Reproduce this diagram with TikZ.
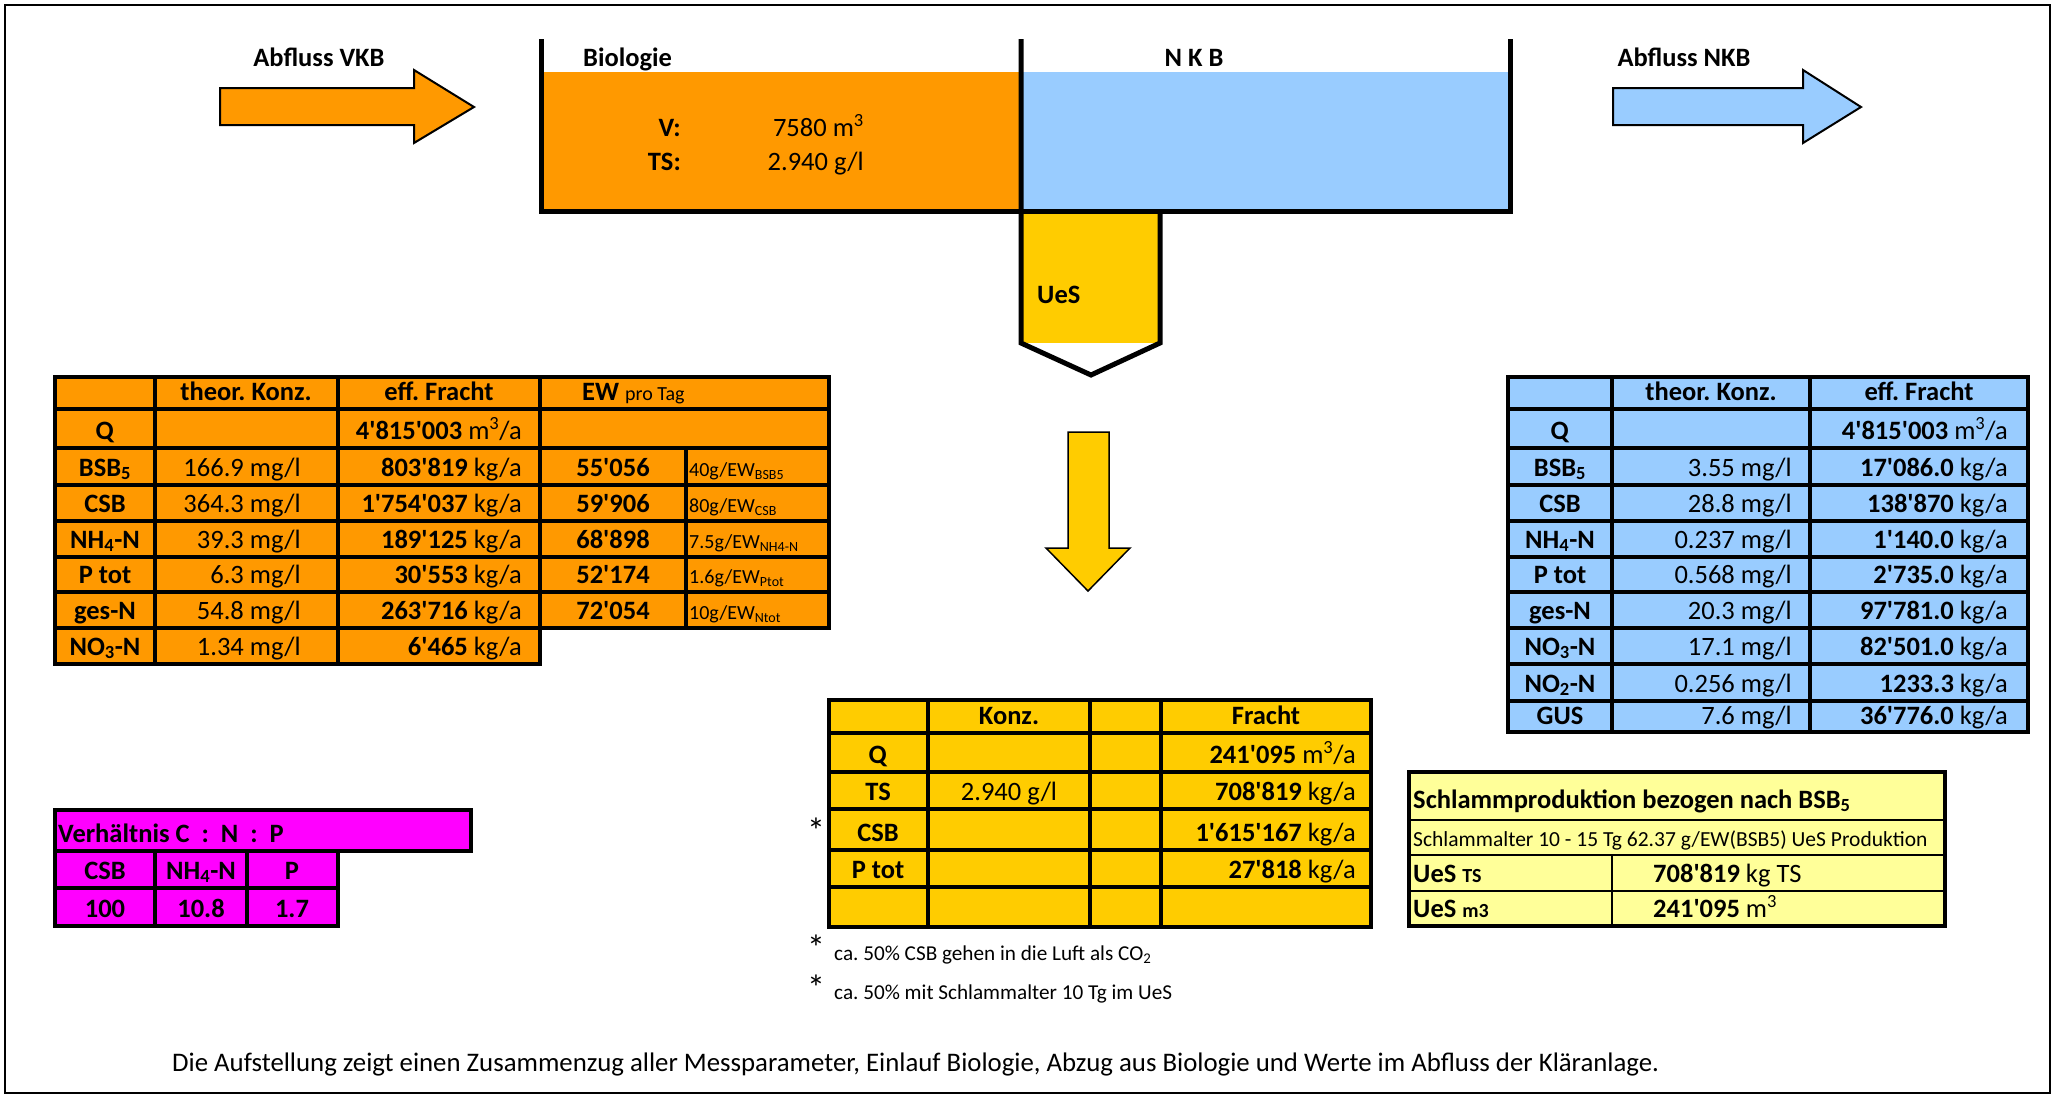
\documentclass[tikz,border=0pt]{standalone}
\usepackage{fontspec}
\setmainfont{Carlito}[Ligatures=TeXOff]
\frenchspacing
\definecolor{cOr}{HTML}{FF9900}
\definecolor{cBl}{HTML}{99CCFF}
\definecolor{cYe}{HTML}{FFCC00}
\definecolor{cMa}{HTML}{FF00FF}
\definecolor{cLy}{HTML}{FFFF99}
\newcommand{\fM}{\fontsize{26.5}{30}\selectfont}
\newcommand{\fS}{\fontsize{20}{23}\selectfont}
\newcommand{\fR}{\fontsize{21.5}{24}\selectfont}
\newcommand{\fF}{\fontsize{26.8}{30}\selectfont}
\newcommand{\fT}{\fontsize{21.2}{24}\selectfont}
\newcommand{\fA}{\fontsize{36}{38}\selectfont}
\newcommand{\ap}{\textquotesingle}
\newcommand{\sbs}[1]{\textsubscript{#1}}
\newcommand{\sps}[1]{\textsuperscript{#1}}
\newcounter{nd}
\newcommand{\T}[4][]{\stepcounter{nd}\node[txt,#1] (t\arabic{nd}) at (#2,#3) {#4};}
\tikzset{
  txt/.style={inner sep=0pt, anchor=base, font=\fM},
  L/.style={anchor=base west},
  R/.style={anchor=base east},
  tbl/.style={line width=3.2pt, line cap=rect},
  thin/.style={line width=1.6pt},
  wall/.style={line width=5pt, line join=miter},
  arr/.style={draw=black, line width=2pt, line join=miter},
}
\begin{document}
\begin{tikzpicture}[x=1pt,y=-1pt]
\useasboundingbox (0,0) rectangle (2056,1098);
\draw[line width=2pt] (5,5) rectangle (2050,1093);

% ---------- top process ----------
\T{319}{66}{\textbf{Abfluss VKB}}
\draw[arr, fill=cOr] (220,88) -- (414,88) -- (414,70) -- (474,107) -- (414,143) -- (414,125) -- (220,125) -- cycle;
\T{1684}{66}{\textbf{Abfluss NKB}}
\draw[arr, fill=cBl] (1613,88) -- (1803,88) -- (1803,70) -- (1861,107) -- (1803,143) -- (1803,125) -- (1613,125) -- cycle;

\fill[cOr] (541,72) rectangle (1021,211);
\fill[cBl] (1021,72) rectangle (1510,211);
\fill[cYe] (1021,211) rectangle (1160,343);
\draw[wall] (541,39) -- (541,211) -- (1510,211) -- (1510,39);
\draw[wall] (1021,39) -- (1021,343) -- (1091,375) -- (1160,343) -- (1160,211);
\T[L]{583}{66}{\textbf{Biologie}}
\T{1194}{66}{\textbf{N K B}}
\T[R]{681}{136}{\textbf{V:}}
\T[R]{864}{136}{7580 m\sps{3}}
\T[R]{681}{170}{\textbf{TS:}}
\T[R]{864}{170}{2.940 g/l}
\T[L]{1037}{303}{\textbf{UeS}}

\draw[arr, fill=cYe, line width=1.5pt] (1068,432) -- (1109,432) -- (1109,548) -- (1130,548) -- (1088,591) -- (1046,548) -- (1068,548) -- cycle;

% ---------- orange table ----------
\fill[cOr] (55,377) rectangle (829,628);
\fill[cOr] (55,628) rectangle (540,664);
\foreach \y in {377,409,448,485,521,557,592,628} \draw[tbl] (55,\y) -- (829,\y);
\draw[tbl] (55,664) -- (540,664);
\foreach \x in {55,155,338,540} \draw[tbl] (\x,377) -- (\x,664);
\draw[tbl] (686,448) -- (686,628);
\draw[tbl] (829,377) -- (829,628);
\T{246}{400}{\textbf{theor. Konz.}}
\T{439}{400}{\textbf{eff. Fracht}}
\T[L]{582}{400}{\textbf{EW} {\fS pro Tag}}
\T{105}{439}{\textbf{Q}}
\T[R]{522}{439}{\textbf{4\ap815\ap003} m\sps{3}/a}
\T{105}{476}{\textbf{BSB\sbs{5}}}
\T[R]{301}{476}{166.9 mg/l}
\T[R]{522}{476}{\textbf{803\ap819} kg/a}
\T{613}{476}{\textbf{55\ap056}}
\T[L]{689}{476}{\fS 40g/EW\sbs{BSB5}}
\T{105}{512}{\textbf{CSB}}
\T[R]{301}{512}{364.3 mg/l}
\T[R]{522}{512}{\textbf{1\ap754\ap037} kg/a}
\T{613}{512}{\textbf{59\ap906}}
\T[L]{689}{512}{\fS 80g/EW\sbs{CSB}}
\T{105}{548}{\textbf{NH\sbs{4}-N}}
\T[R]{301}{548}{39.3 mg/l}
\T[R]{522}{548}{\textbf{189\ap125} kg/a}
\T{613}{548}{\textbf{68\ap898}}
\T[L]{689}{548}{\fS 7.5g/EW\sbs{NH4-N}}
\T{105}{583}{\textbf{P tot}}
\T[R]{301}{583}{6.3 mg/l}
\T[R]{522}{583}{\textbf{30\ap553} kg/a}
\T{613}{583}{\textbf{52\ap174}}
\T[L]{689}{583}{\fS 1.6g/EW\sbs{Ptot}}
\T{105}{619}{\textbf{ges-N}}
\T[R]{301}{619}{54.8 mg/l}
\T[R]{522}{619}{\textbf{263\ap716} kg/a}
\T{613}{619}{\textbf{72\ap054}}
\T[L]{689}{619}{\fS 10g/EW\sbs{Ntot}}
\T{105}{655}{\textbf{NO\sbs{3}-N}}
\T[R]{301}{655}{1.34 mg/l}
\T[R]{522}{655}{\textbf{6\ap465} kg/a}

% ---------- blue table ----------
\fill[cBl] (1508,377) rectangle (2028,732);
\foreach \y in {377,409,448,485,521,557,592,628,664,701,732} \draw[tbl] (1508,\y) -- (2028,\y);
\foreach \x in {1508,1612,1810,2028} \draw[tbl] (\x,377) -- (\x,732);
\T{1711}{400}{\textbf{theor. Konz.}}
\T{1919}{400}{\textbf{eff. Fracht}}
\T{1560}{439}{\textbf{Q}}
\T[R]{2008}{439}{\textbf{4\ap815\ap003} m\sps{3}/a}
\T{1560}{476}{\textbf{BSB\sbs{5}}}
\T[R]{1792}{476}{3.55 mg/l}
\T[R]{2008}{476}{\textbf{17\ap086.0} kg/a}
\T{1560}{512}{\textbf{CSB}}
\T[R]{1792}{512}{28.8 mg/l}
\T[R]{2008}{512}{\textbf{138\ap870} kg/a}
\T{1560}{548}{\textbf{NH\sbs{4}-N}}
\T[R]{1792}{548}{0.237 mg/l}
\T[R]{2008}{548}{\textbf{1\ap140.0} kg/a}
\T{1560}{583}{\textbf{P tot}}
\T[R]{1792}{583}{0.568 mg/l}
\T[R]{2008}{583}{\textbf{2\ap735.0} kg/a}
\T{1560}{619}{\textbf{ges-N}}
\T[R]{1792}{619}{20.3 mg/l}
\T[R]{2008}{619}{\textbf{97\ap781.0} kg/a}
\T{1560}{655}{\textbf{NO\sbs{3}-N}}
\T[R]{1792}{655}{17.1 mg/l}
\T[R]{2008}{655}{\textbf{82\ap501.0} kg/a}
\T{1560}{692}{\textbf{NO\sbs{2}-N}}
\T[R]{1792}{692}{0.256 mg/l}
\T[R]{2008}{692}{\textbf{1233.3} kg/a}
\T{1560}{724}{\textbf{GUS}}
\T[R]{1792}{724}{7.6 mg/l}
\T[R]{2008}{724}{\textbf{36\ap776.0} kg/a}

% ---------- yellow table ----------
\fill[cYe] (829,700) rectangle (1371,927);
\foreach \y in {700,733,772,809,850,887,927} \draw[tbl] (829,\y) -- (1371,\y);
\foreach \x in {829,928,1090,1161,1371} \draw[tbl] (\x,700) -- (\x,927);
\T{1009}{724}{\textbf{Konz.}}
\T{1266}{724}{\textbf{Fracht}}
\T{878}{763}{\textbf{Q}}
\T[R]{1356}{763}{\textbf{241\ap095} m\sps{3}/a}
\T{878}{800}{\textbf{TS}}
\T{1009}{800}{2.940 g/l}
\T[R]{1356}{800}{\textbf{708\ap819} kg/a}
\T{878}{841}{\textbf{CSB}}
\T[R]{1356}{841}{\textbf{1\ap615\ap167} kg/a}
\T{878}{878}{\textbf{P tot}}
\T[R]{1356}{878}{\textbf{27\ap818} kg/a}
\T{816}{843}{\fA *}
\T{816}{960}{\fA *}
\T[L]{834}{960}{\fT ca. 50\% CSB gehen in die Luft als CO\sbs{2}}
\T{816}{1000}{\fA *}
\T[L]{834}{999}{\fT ca. 50\% mit Schlammalter 10 Tg im UeS}

% ---------- Schlamm table ----------
\fill[cLy] (1409,772) rectangle (1945,926);
\draw[thin] (1409,820) -- (1945,820);
\draw[thin] (1409,855) -- (1945,855);
\draw[thin] (1409,891) -- (1945,891);
\draw[thin] (1612,855) -- (1612,926);
\draw[tbl] (1409,772) rectangle (1945,926);
\T[L]{1413}{808}{\textbf{Schlammproduktion bezogen nach BSB\sbs{5}}}
\T[L]{1413}{846}{\fR Schlammalter 10 - 15 Tg 62.37 g/EW(BSB5) UeS Produktion}
\T[L]{1413}{882}{\textbf{UeS} {\fS\bfseries TS}}
\T[L]{1653}{882}{\textbf{708\ap819} kg TS}
\T[L]{1413}{917}{\textbf{UeS} {\fS\bfseries m3}}
\T[L]{1653}{917}{\textbf{241\ap095} m\sps{3}}

% ---------- magenta table ----------
\fill[cMa] (55,810) rectangle (471,851);
\fill[cMa] (55,851) rectangle (338,926);
\draw[tbl] (55,810) -- (471,810) -- (471,851) -- (55,851);
\draw[tbl] (55,888) -- (338,888);
\draw[tbl] (55,926) -- (338,926);
\foreach \x in {55,155,247,338} \draw[tbl] (\x,851) -- (\x,926);
\draw[tbl] (55,810) -- (55,851);
\T[L]{58}{842}{\textbf{Verhältnis C\ \ :\ \ N\ \ :\ \ P}}
\T{105}{879}{\textbf{CSB}}
\T{201}{879}{\textbf{NH\sbs{4}-N}}
\T{292}{879}{\textbf{P}}
\T{105}{917}{\textbf{100}}
\T{201}{917}{\textbf{10.8}}
\T{292}{917}{\textbf{1.7}}

% ---------- footer ----------
\T[L]{172}{1071}{\fF Die Aufstellung zeigt einen Zusammenzug aller Messparameter, Einlauf Biologie, Abzug aus Biologie und Werte im Abfluss der Kläranlage.}
\end{tikzpicture}
\end{document}
